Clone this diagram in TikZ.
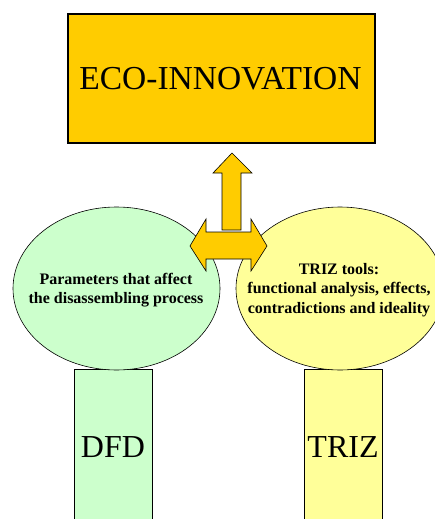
\documentclass[tikz,border=0pt]{standalone}
\usepackage{fontspec}
\setmainfont{Liberation Serif}
\usetikzlibrary{shapes.geometric}
\definecolor{eco}{HTML}{FFCC00}
\definecolor{lgreen}{HTML}{CCFFCC}
\definecolor{lyellow}{HTML}{FFFF99}
\tikzset{
  thinline/.style={draw=black, line width=0.6pt},
  bigtext/.style={font=\fontsize{32}{36}\selectfont},
  bubbletext/.style={font=\fontsize{16}{19.5}\selectfont\bfseries, align=center},
  blockarrow/.style={fill=eco, draw=black, line width=0.6pt, line join=miter}
}
\begin{document}
\begin{tikzpicture}[x=1pt,y=-1pt]
\useasboundingbox (0,0) rectangle (435,519);
\clip (0,0) rectangle (435,519);
% stems
\node[thinline, fill=lgreen, minimum width=78pt, minimum height=160pt, inner sep=0pt, anchor=north west] (dfdbox) at (74,369) {};
\node[thinline, fill=lyellow, minimum width=78pt, minimum height=160pt, inner sep=0pt, anchor=north west] (trizbox) at (304,369) {};
\node[bigtext] (dfd) at (113,447) {DFD};
\node[bigtext] (triz) at (343,447) {TRIZ};
% bubbles
\node[ellipse, thinline, fill=lgreen, minimum width=207pt, minimum height=163pt, inner sep=0pt] (left) at (116.5,288.5) {};
\node[ellipse, thinline, fill=lyellow, minimum width=208pt, minimum height=163pt, inner sep=0pt] (right) at (340,288.5) {};
\node[bubbletext] (lefttext) at (116,290) {Parameters that affect\\the disassembling process};
\node[bubbletext] (righttext) at (339,290) {TRIZ tools:\\functional analysis, effects,\\contradictions and ideality};
% top box
\node[draw=black, line width=2pt, fill=eco, minimum width=307pt, minimum height=129pt, inner sep=0pt, anchor=north west] (eco) at (67,13) {};
\node[bigtext, font=\fontsize{33.5}{38}\selectfont] (ecotext) at (220.5,79) {ECO-INNOVATION};
% up arrow
\draw[blockarrow] (222,230) -- (222,173) -- (213,173) -- (232,153) -- (252,173) -- (241,173) -- (241,230) -- cycle;
% double arrow
\draw[blockarrow] (190,246) -- (206,219) -- (206,232) -- (251,232) -- (251,219) -- (267,246) -- (251,271) -- (251,259) -- (206,259) -- (206,271) -- cycle;
\end{tikzpicture}
\end{document}
